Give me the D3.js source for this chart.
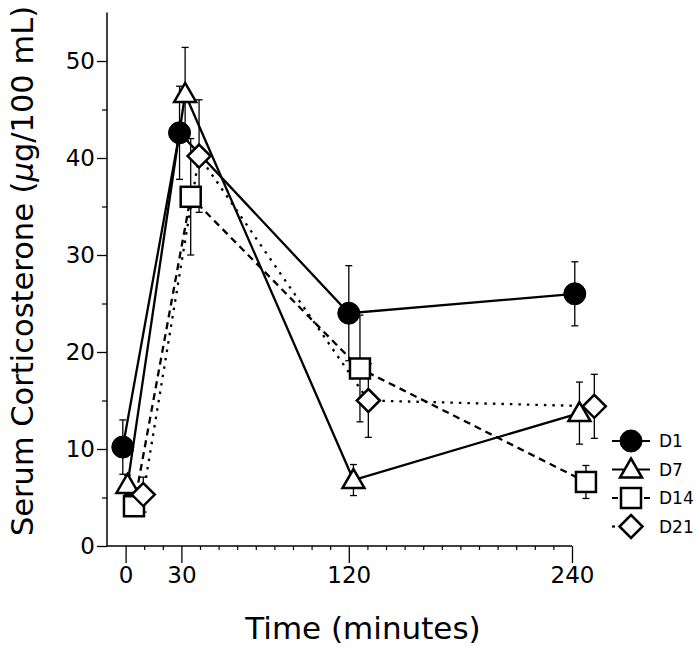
<!DOCTYPE html>
<html><head><meta charset="utf-8">
<script src="https://cdn.jsdelivr.net/npm/d3@7"></script>
<style>body{margin:0;background:#fff}</style>
</head><body>
<script>
// ---- data ----
const seriesNames = ["D1", "D7", "D14", "D21"];
const xTicks = [0, 30, 120, 240];
const yTicks = [0, 10, 20, 30, 40, 50];
// plotted times (minutes, slightly offset per group as in the figure)
const timesD1  = [-1.5, 29, 120, 241.5];
const timesD7  = [1, 32, 122.5, 244];
const timesD14 = [4.5, 35, 126, 247.5];
const timesD21 = [9.5, 39.5, 130.5, 252];
const meanD1  = [10.2, 42.6, 24.0, 26.0];
const meanD7  = [6.3, 46.6, 6.8, 13.7];
const meanD14 = [4.1, 36.0, 18.3, 6.6];
const meanD21 = [5.3, 40.2, 15.0, 14.4];
const semD1  = [2.8, 4.8, 4.9, 3.3];
const semD7  = [1.0, 4.8, 1.6, 3.2];
const semD14 = [0.8, 6.0, 5.5, 1.7];
const semD21 = [1.8, 5.8, 3.8, 3.3];

const series = [
  {name: seriesNames[0], t: timesD1,  m: meanD1,  e: semD1,  shape: "circle",   dash: null},
  {name: seriesNames[1], t: timesD7,  m: meanD7,  e: semD7,  shape: "triangle", dash: null},
  {name: seriesNames[2], t: timesD14, m: meanD14, e: semD14, shape: "square",   dash: "7,5"},
  {name: seriesNames[3], t: timesD21, m: meanD21, e: semD21, shape: "diamond",  dash: "2.5,6"}
];

const W = 698, H = 653;
const svg = d3.select("body").append("svg").attr("width", W).attr("height", H);
const font = "'DejaVu Sans', Verdana, sans-serif";

const x = d3.scaleLinear().domain([-10, 240]).range([107, 572]);
const y = d3.scaleLinear().domain([0, 55]).range([546, 12.5]);

// axes
const xAxisMajor = d3.axisBottom(x).tickValues(xTicks).tickSize(17).tickFormat(d3.format("d"));
const xg = svg.append("g").attr("transform", "translate(0,546)").call(xAxisMajor);
xg.select(".domain").attr("d", `M${x(-10)},0H${x(240)}`).attr("stroke-width", 1.5);
xg.selectAll(".tick line").attr("stroke-width", 1.3);
xg.selectAll("text").attr("font-family", font).attr("font-size", 23).attr("dy", "0.75em").attr("y", 20).attr("fill", "#000");
const xMinor = d3.range(10, 240, 10).filter(v => !xTicks.includes(v));
svg.append("g").attr("transform", "translate(0,546)")
  .call(d3.axisBottom(x).tickValues(xMinor).tickSize(4).tickFormat(""))
  .call(g => g.select(".domain").remove())
  .selectAll("line").attr("stroke-width", 1.2);

const yAxisMajor = d3.axisLeft(y).tickValues(yTicks).tickSize(10).tickFormat(d3.format("d"));
const yg = svg.append("g").attr("transform", "translate(107,0)").call(yAxisMajor);
yg.select(".domain").attr("d", `M0,${y(0)}V${y(55)}`).attr("stroke-width", 1.5);
yg.selectAll(".tick line").attr("stroke-width", 1.3);
yg.selectAll("text").attr("font-family", font).attr("font-size", 23).attr("x", -12).attr("fill", "#000");
svg.append("g").attr("transform", "translate(107,0)")
  .call(d3.axisLeft(y).tickValues([5, 15, 25, 35, 45]).tickSize(5).tickFormat(""))
  .call(g => g.select(".domain").remove())
  .selectAll("line").attr("stroke-width", 1.2);

// titles
svg.append("text").attr("x", 363).attr("y", 639).attr("text-anchor", "middle")
  .attr("font-family", font).attr("font-size", 31).text("Time (minutes)");
svg.append("text").attr("transform", "translate(33,271) rotate(-90)").attr("text-anchor", "middle")
  .attr("font-family", font).attr("font-size", 30.5)
  .html("Serum Corticosterone (<tspan font-style='italic'>μ</tspan>g/100 mL)");

// markers
function marker(g, shape) {
  if (shape === "circle") {
    g.append("circle").attr("r", 11).attr("fill", "#000").attr("stroke", "#000");
  } else if (shape === "triangle") {
    g.append("path").attr("d", "M0,-11L11,8L-11,8Z").attr("fill", "#fff").attr("stroke", "#000").attr("stroke-width", 2.5);
  } else if (shape === "square") {
    g.append("rect").attr("x", -10).attr("y", -10).attr("width", 20).attr("height", 20)
      .attr("fill", "#fff").attr("stroke", "#000").attr("stroke-width", 2.5);
  } else {
    g.append("path").attr("d", "M0,-11.5L11.5,0L0,11.5L-11.5,0Z").attr("fill", "#fff").attr("stroke", "#000").attr("stroke-width", 2.5);
  }
}

const line = d3.line().x(d => x(d[0])).y(d => y(d[1]));
// lines
series.forEach(s => {
  const pts = s.t.map((t, i) => [t, s.m[i]]);
  svg.append("path").attr("d", line(pts)).attr("fill", "none").attr("stroke", "#000")
    .attr("stroke-width", 2.3).attr("stroke-dasharray", s.dash);
});
// error bars
series.forEach(s => {
  s.t.forEach((t, i) => {
    const cx = x(t), y1 = y(s.m[i] + s.e[i]), y2 = y(s.m[i] - s.e[i]);
    const g = svg.append("g").attr("stroke", "#000").attr("stroke-width", 1.3);
    g.append("line").attr("x1", cx).attr("x2", cx).attr("y1", y1).attr("y2", y2);
    g.append("line").attr("x1", cx - 3.5).attr("x2", cx + 3.5).attr("y1", y1).attr("y2", y1);
    g.append("line").attr("x1", cx - 3.5).attr("x2", cx + 3.5).attr("y1", y2).attr("y2", y2);
  });
});
// markers
series.forEach(s => {
  s.t.forEach((t, i) => {
    const g = svg.append("g").attr("transform", `translate(${x(t)},${y(s.m[i])})`);
    marker(g, s.shape);
  });
});

// legend
const leg = svg.append("g");
series.forEach((s, i) => {
  const ly = 441 + i * 28.5;
  const g = leg.append("g");
  g.append("line").attr("x1", 612).attr("x2", 650).attr("y1", ly).attr("y2", ly)
    .attr("stroke", "#000").attr("stroke-width", 2.2).attr("stroke-dasharray", s.dash ? (s.name === "D14" ? "6,26" : "3,200") : null);
  const mg = g.append("g").attr("transform", `translate(631,${ly})`);
  marker(mg, s.shape);
  g.append("text").attr("x", 659).attr("y", ly).attr("dy", "0.36em")
    .attr("font-family", font).attr("font-size", 17).text(s.name);
});
</script>
</body></html>
